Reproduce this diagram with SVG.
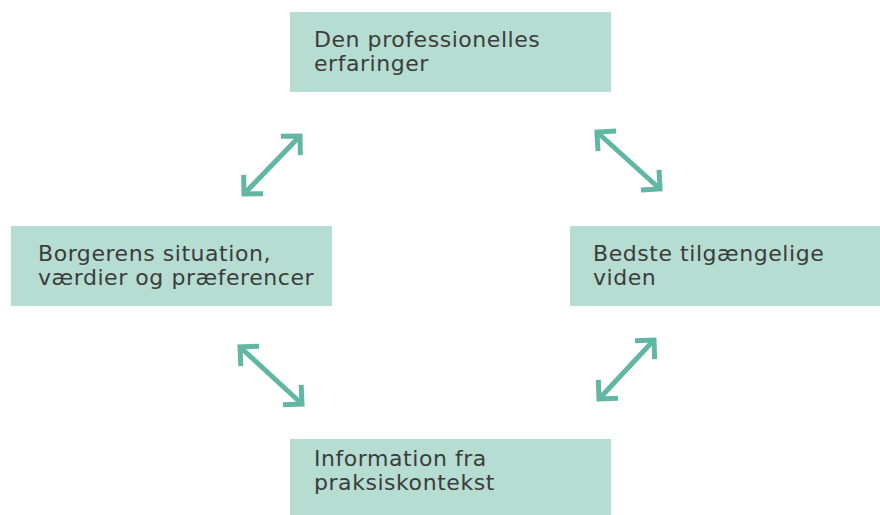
<svg xmlns="http://www.w3.org/2000/svg" width="880" height="515" viewBox="0 0 880 515">
<style>
.box{fill:#b6ddd2}
.lbl{font-family:"DejaVu Sans","Liberation Sans",sans-serif;font-size:22px;fill:#3c3c3c;letter-spacing:0.55px}
.con{stroke:#62b6a4;stroke-width:5;fill:none;marker-start:url(#chev);marker-end:url(#chev)}
</style>
<defs>
<marker id="chev" markerUnits="userSpaceOnUse" orient="auto-start-reverse" refX="0" refY="0" markerWidth="40" markerHeight="40" viewBox="-20 -20 40 40" overflow="visible">
<path d="M -13.5,-13.5 L 0,0 L -13.5,13.5" fill="none" stroke="#62b6a4" stroke-width="5" stroke-linejoin="miter"/>
</marker>
</defs>
<rect width="880" height="515" fill="#ffffff"/>
<g id="node-top">
<rect class="box" x="290" y="12" width="321" height="80"/>
<text class="lbl" x="314" y="47">Den professionelles</text>
<text class="lbl" x="314" y="71">erfaringer</text>
</g>
<g id="node-left">
<rect class="box" x="11" y="226" width="321" height="80"/>
<text class="lbl" x="38" y="261">Borgerens situation,</text>
<text class="lbl" x="38" y="285">værdier og præferencer</text>
</g>
<g id="node-right">
<rect class="box" x="570" y="226" width="310" height="80"/>
<text class="lbl" x="593" y="261">Bedste tilgængelige</text>
<text class="lbl" x="593" y="285">viden</text>
</g>
<g id="node-bottom">
<rect class="box" x="290" y="439" width="321" height="76"/>
<text class="lbl" x="314" y="466">Information fra</text>
<text class="lbl" x="314" y="490">praksiskontekst</text>
</g>
<g id="connectors">
<path class="con" d="M 244,194 L 300,136"/>
<path class="con" d="M 597,132 L 660,189"/>
<path class="con" d="M 240,347 L 302,404"/>
<path class="con" d="M 654,340 L 599,399"/>
</g>
</svg>
